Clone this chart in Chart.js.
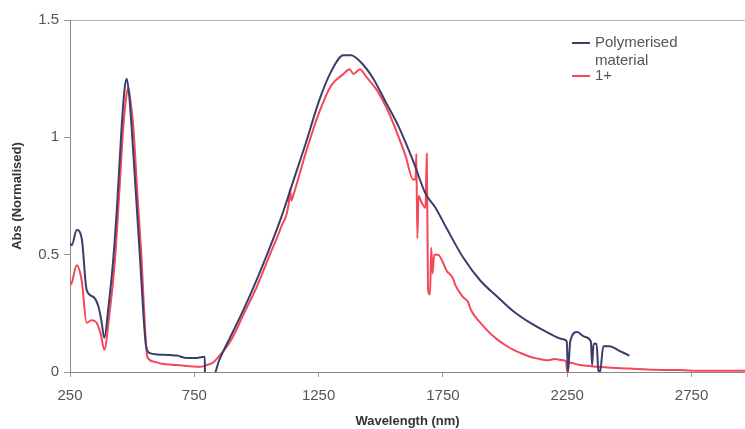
<!DOCTYPE html>
<html>
<head>
<meta charset="utf-8">
<script src="https://cdn.jsdelivr.net/npm/chart.js@4/dist/chart.umd.min.js"></script>
<style>
  body { margin: 0; background: #fff; }
  #wrap { width: 745px; height: 429px; position: relative; }
</style>
</head>
<body>
<div id="wrap"><canvas id="absChart"></canvas></div>
<script>
// polymerised material (blue)
const polyWl = [250, 257, 277, 297, 317, 344, 364, 376, 388, 405, 424, 440, 458, 470, 478, 488, 498, 515, 532, 545, 556, 572,
  600, 652, 680, 720, 760, 792, 793, 825, 850, 900, 950, 1000, 1050, 1100, 1150, 1200, 1250, 1300, 1350, 1380,
  1420, 1470, 1520, 1570, 1630, 1680, 1720, 1766, 1830, 1900, 1970, 2032, 2100, 2168, 2233, 2248, 2253, 2262,
  2290, 2320, 2345, 2350, 2356, 2368, 2375, 2382, 2395, 2420, 2460, 2500];
const polyAbs = [0.55, 0.54, 0.605, 0.57, 0.35, 0.32, 0.28, 0.22, 0.145, 0.28, 0.48, 0.72, 1.05, 1.21, 1.25, 1.18, 1.04, 0.76, 0.48, 0.25, 0.11, 0.08,
  0.075, 0.072, 0.07, 0.06, 0.06, 0.065, -0.02, -0.02, 0.05, 0.16, 0.27, 0.39, 0.52, 0.66, 0.82, 0.98, 1.15, 1.28, 1.35, 1.35,
  1.32, 1.25, 1.15, 1.05, 0.90, 0.76, 0.70, 0.61, 0.49, 0.39, 0.32, 0.26, 0.21, 0.17, 0.14, 0.13, 0.0, 0.13,
  0.17, 0.15, 0.13, 0.03, 0.12, 0.12, 0.01, 0.0, 0.11, 0.11, 0.09, 0.07];

// 1+ (red)
const oneWl = [250, 257, 277, 297, 317, 337, 357, 374, 388, 408, 431, 448, 464, 476, 484, 494, 505, 521, 538, 550, 561, 585,
  620, 679, 773, 800, 825, 860, 900, 950, 1000, 1050, 1100, 1130, 1135, 1140, 1150, 1200, 1250, 1300, 1350, 1375,
  1390, 1416, 1440, 1485, 1530, 1565, 1600, 1630, 1640, 1643, 1647, 1652, 1665, 1680, 1685, 1690, 1698, 1703,
  1708, 1715, 1730, 1766, 1790, 1800, 1830, 1850, 1865, 1900, 1935, 1967, 2000, 2032, 2065, 2100, 2140, 2168,
  2200, 2233, 2245, 2250, 2256, 2300, 2400, 2500, 2600, 2700, 2800, 2965];
const oneAbs = [0.37, 0.38, 0.455, 0.39, 0.21, 0.22, 0.21, 0.16, 0.095, 0.24, 0.48, 0.76, 1.04, 1.17, 1.21, 1.15, 1.04, 0.76, 0.48, 0.22, 0.065, 0.045,
  0.035, 0.03, 0.022, 0.03, 0.04, 0.08, 0.14, 0.25, 0.36, 0.49, 0.62, 0.72, 0.78, 0.73, 0.76, 0.94, 1.10, 1.22, 1.27, 1.29,
  1.27, 1.29, 1.26, 1.20, 1.11, 1.02, 0.92, 0.82, 0.82, 0.93, 0.57, 0.75, 0.72, 0.70, 0.93, 0.35, 0.33, 0.53,
  0.42, 0.50, 0.50, 0.43, 0.40, 0.37, 0.32, 0.30, 0.26, 0.21, 0.17, 0.14, 0.115, 0.095, 0.08, 0.065, 0.055, 0.05,
  0.055, 0.05, 0.045, 0.0, 0.04, 0.03, 0.02, 0.015, 0.01, 0.008, 0.005, 0.005];

const seriesNames = [['Polymerised', 'material'], ['1+']];
const xTicks = [250, 750, 1250, 1750, 2250, 2750];
const yTicks = [0, 0.5, 1, 1.5];

const toPoints = (xs, ys) => xs.map((x, i) => ({ x: x, y: ys[i] }));

// legend drawn by hand, the label wraps on two lines
const sideLegend = {
  id: 'sideLegend',
  afterDraw(chart) {
    const ctx = chart.ctx;
    const rows = [{ y: 43, color: '#3b3d6b', lines: seriesNames[0] }, { y: 76, color: '#f5475a', lines: seriesNames[1] }];
    ctx.save();
    ctx.font = '15px "Liberation Sans", Arial, sans-serif';
    ctx.textBaseline = 'middle';
    rows.forEach(r => {
      ctx.strokeStyle = r.color;
      ctx.lineWidth = 2;
      ctx.beginPath();
      ctx.moveTo(572, r.y);
      ctx.lineTo(590, r.y);
      ctx.stroke();
      ctx.fillStyle = '#555';
      r.lines.forEach((t, i) => ctx.fillText(t, 595, r.y + i * 18));
    });
    ctx.restore();
  }
};

const ctx = document.getElementById('absChart').getContext('2d');
new Chart(ctx, {
  type: 'line',
  data: {
    datasets: [
      {
        label: seriesNames[0].join(' '),
        data: toPoints(polyWl, polyAbs),
        borderColor: '#3b3d6b',
        borderWidth: 2,
        pointRadius: 0,
        cubicInterpolationMode: 'monotone'
      },
      {
        label: seriesNames[1].join(' '),
        data: toPoints(oneWl, oneAbs),
        borderColor: '#f5475a',
        borderWidth: 2,
        pointRadius: 0,
        cubicInterpolationMode: 'monotone'
      }
    ]
  },
  options: {
    responsive: true,
    maintainAspectRatio: false,
    animation: false,
    layout: { padding: { top: 20, right: 0, left: 0, bottom: 0 } },
    plugins: { legend: { display: false }, tooltip: { enabled: false } },
    scales: {
      x: {
        type: 'linear',
        min: 250,
        max: 2965,
        afterBuildTicks: axis => { axis.ticks = xTicks.map(v => ({ value: v })); },
        afterFit: axis => { axis.height = 57; },
        border: { color: '#888', width: 1 },
        grid: { color: 'transparent', tickColor: '#999', tickLength: 5 },
        ticks: {
          color: '#555', padding: 10, maxRotation: 0, autoSkip: false,
          font: { family: '"Liberation Sans", Arial, sans-serif', size: 15 },
          callback: v => String(v)
        },
        title: {
          display: true, text: 'Wavelength (nm)', color: '#333',
          padding: { top: 0, bottom: 0 },
          font: { family: '"Liberation Sans", Arial, sans-serif', size: 13, weight: 'bold' }
        }
      },
      y: {
        min: 0,
        max: 1.5,
        afterBuildTicks: axis => { axis.ticks = yTicks.map(v => ({ value: v })); },
        afterFit: axis => { axis.width = 70; },
        border: { color: '#888', width: 1 },
        grid: {
          color: c => (c.tick && c.tick.value === 1.5 ? '#b5b5b5' : 'transparent'),
          tickColor: '#999', tickLength: 6
        },
        ticks: {
          color: '#555', padding: 5,
          font: { family: '"Liberation Sans", Arial, sans-serif', size: 15 },
          callback: v => String(v)
        },
        title: {
          display: true, text: 'Abs (Normalised)', color: '#333',
          padding: { top: 10, bottom: 0 },
          font: { family: '"Liberation Sans", Arial, sans-serif', size: 13, weight: 'bold' }
        }
      }
    }
  },
  plugins: [sideLegend]
});
</script>
</body>
</html>
